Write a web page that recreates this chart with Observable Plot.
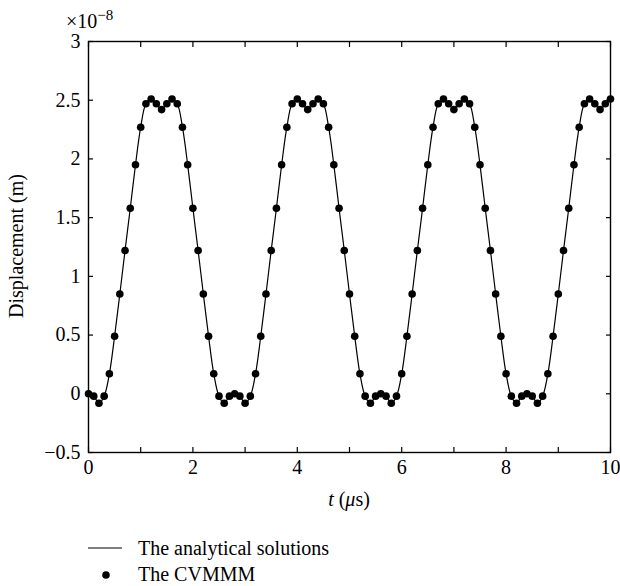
<!DOCTYPE html>
<html><head><meta charset="utf-8">
<script src="https://cdn.jsdelivr.net/npm/d3@7"></script>
<script src="https://cdn.jsdelivr.net/npm/@observablehq/plot@0.6"></script>
<style>
body{margin:0;background:#fff;}
#wrap{position:relative;width:620px;height:586px;font-family:"Liberation Serif","DejaVu Serif",serif;}
#wrap svg{display:block;}
</style></head><body><div id="wrap"></div>
<script>
// time (µs)
const times = [
  0.0,0.1,0.2,0.3,0.4,0.5,0.6,0.7,0.8,0.9,1.0,1.1,1.2,1.3,1.4,1.5,1.6,1.7,1.8,1.9,
  2.0,2.1,2.2,2.3,2.4,2.5,2.6,2.7,2.8,2.9,3.0,3.1,3.2,3.3,3.4,3.5,3.6,3.7,3.8,3.9,
  4.0,4.1,4.2,4.3,4.4,4.5,4.6,4.7,4.8,4.9,5.0,5.1,5.2,5.3,5.4,5.5,5.6,5.7,5.8,5.9,
  6.0,6.1,6.2,6.3,6.4,6.5,6.6,6.7,6.8,6.9,7.0,7.1,7.2,7.3,7.4,7.5,7.6,7.7,7.8,7.9,
  8.0,8.1,8.2,8.3,8.4,8.5,8.6,8.7,8.8,8.9,9.0,9.1,9.2,9.3,9.4,9.5,9.6,9.7,9.8,9.9,10.0
];
// displacement (×10^-8 m), CVMMM points
const displacement = [
  0,-0.02,-0.08,-0.02,0.17,0.49,0.85,1.22,1.58,1.95,2.27,2.47,2.51,2.47,2.42,2.47,2.51,2.47,2.27,1.95,
  1.58,1.22,0.85,0.49,0.17,-0.02,-0.08,-0.02,
  0,-0.02,-0.08,-0.02,0.17,0.49,0.85,1.22,1.58,1.95,2.27,2.47,2.51,2.47,2.42,2.47,2.51,2.47,2.27,1.95,
  1.58,1.22,0.85,0.49,0.17,-0.02,-0.08,-0.02,
  0,-0.02,-0.08,-0.02,0.17,0.49,0.85,1.22,1.58,1.95,2.27,2.47,2.51,2.47,2.42,2.47,2.51,2.47,2.27,1.95,
  1.58,1.22,0.85,0.49,0.17,-0.02,-0.08,-0.02,
  0,-0.02,-0.08,-0.02,0.17,0.49,0.85,1.22,1.58,1.95,2.27,2.47,2.51,2.47,2.42,2.47,2.51
];
const yTicks = [-0.5,0,0.5,1,1.5,2,2.5,3];
const yTickLabels = ["\u22120.5","0","0.5","1","1.5","2","2.5","3"];
const xTicks = [0,1,2,3,4,5,6,7,8,9,10];
const xLabelTicks = [0,2,4,6,8,10];
const xTickLabels = ["0","2","4","6","8","10"];
const seriesNames = ["The analytical solutions","The CVMMM"];

const data = times.map((t,i)=>({t, d: displacement[i]}));
const FONT = '"Liberation Serif","DejaVu Serif",serif';
const FS = 20;

const chart = Plot.plot({
  width: 620, height: 520,
  marginLeft: 88, marginRight: 10, marginTop: 41, marginBottom: 68,
  style: {fontFamily: FONT, fontSize: FS + "px", color: "#000", background: "#fff"},
  x: {domain: [0,10]},
  y: {domain: [-0.5,3]},
  marks: [
    Plot.axisY(yTicks, {anchor: "left", tickSize: 0, tickPadding: 8, label: null,
      tickFormat: d => yTickLabels[yTicks.indexOf(d)], fontSize: FS}),
    Plot.axisY(yTicks, {anchor: "left", tickSize: 5, insetLeft: 5, text: null, label: null, strokeWidth: 1.2}),
    Plot.axisY(yTicks, {anchor: "right", tickSize: 5, insetRight: 5, text: null, label: null, strokeWidth: 1.2}),
    Plot.axisX(xLabelTicks, {anchor: "bottom", tickSize: 0, tickPadding: 7, label: null,
      tickFormat: d => xTickLabels[xLabelTicks.indexOf(d)], fontSize: FS}),
    Plot.axisX(xTicks, {anchor: "bottom", tickSize: 5, insetBottom: 5, text: null, label: null, strokeWidth: 1.2}),
    Plot.axisX(xTicks, {anchor: "top", tickSize: 5, insetTop: 5, text: null, label: null, strokeWidth: 1.2}),
    Plot.frame({stroke: "#000", strokeWidth: 1.4}),
    Plot.line(data, {x: "t", y: "d", curve: "catmull-rom", stroke: "#000", strokeWidth: 1.2}),
    Plot.dot(data, {x: "t", y: "d", r: 3.8, fill: "#000", stroke: "none"})
  ]
});
document.getElementById("wrap").appendChild(chart);

const svg = d3.select(chart);
// y-axis label
svg.append("text")
  .attr("transform", "translate(23,246) rotate(-90)")
  .attr("text-anchor", "middle")
  .style("font-family", FONT).style("font-size", FS + "px").attr("fill", "#000")
  .text("Displacement (m)");
// x-axis label
const xl = svg.append("text").attr("x", 349).attr("y", 506).attr("text-anchor", "middle")
  .style("font-family", FONT).style("font-size", FS + "px").attr("fill", "#000");
xl.append("tspan").style("font-style", "italic").text("t");
xl.append("tspan").text(" (");
xl.append("tspan").style("font-style", "italic").text("\u03BC");
xl.append("tspan").text("s)");
// exponent
const ex = svg.append("text").attr("x", 66).attr("y", 28).attr("text-anchor", "start")
  .style("font-family", FONT).style("font-size", FS + "px").attr("fill", "#000");
ex.append("tspan").text("\u00D710");
ex.append("tspan").attr("dy", -8).style("font-size", "15px").text("\u22128");

// legend
const lg = d3.select("#wrap").append("svg")
  .attr("width", 620).attr("height", 66)
  .style("position", "absolute").style("left", "0px").style("top", "520px");
lg.append("line").attr("x1", 88).attr("x2", 122).attr("y1", 28).attr("y2", 28)
  .attr("stroke", "#000").attr("stroke-width", 1.2);
lg.append("circle").attr("cx", 106).attr("cy", 55).attr("r", 3.8).attr("fill", "#000");
lg.append("text").attr("x", 138).attr("y", 35)
  .style("font-family", FONT).style("font-size", FS + "px").attr("fill", "#000").text(seriesNames[0]);
lg.append("text").attr("x", 138).attr("y", 61)
  .style("font-family", FONT).style("font-size", FS + "px").attr("fill", "#000").text(seriesNames[1]);
</script>
</body></html>
